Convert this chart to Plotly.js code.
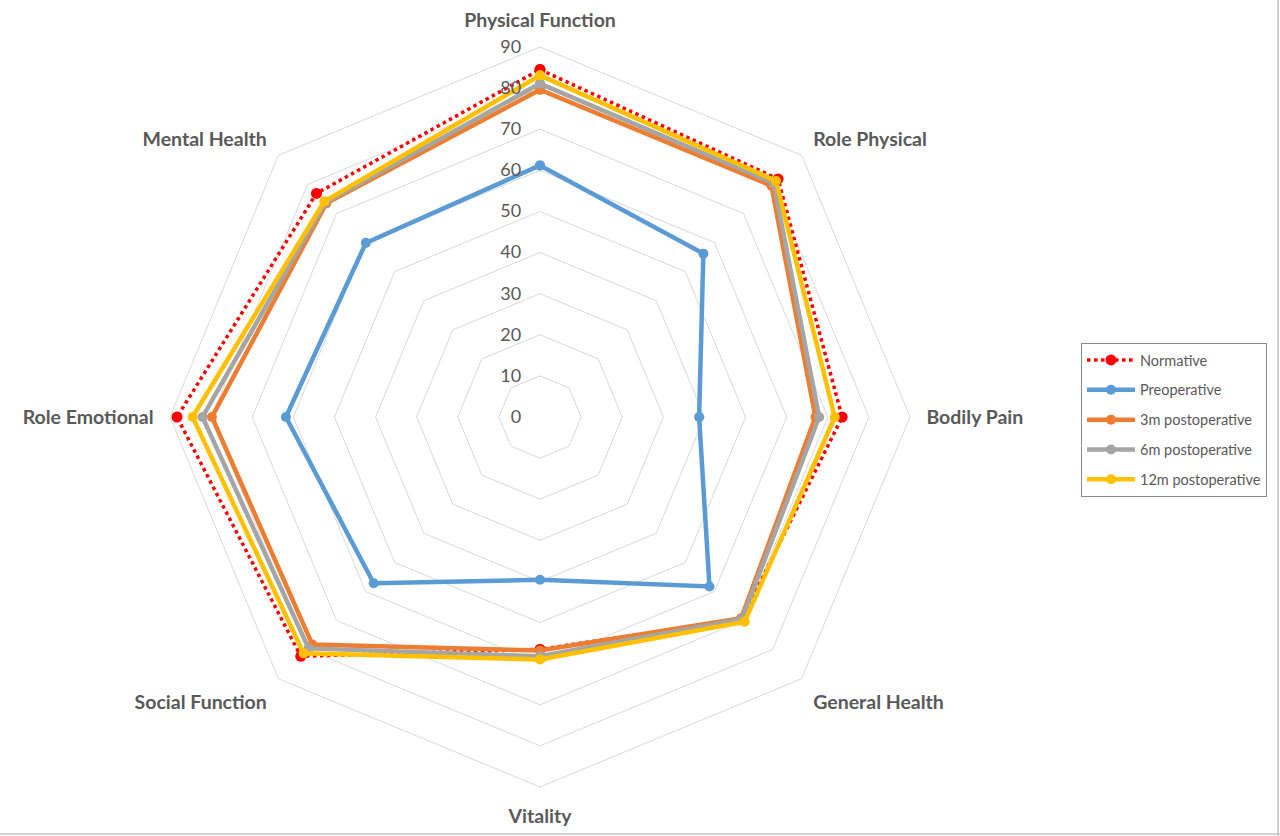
<!DOCTYPE html>
<html>
<head>
<meta charset="utf-8">
<script src="https://cdn.plot.ly/plotly-3.0.1.min.js"></script>
<style>html,body{margin:0;padding:0;background:#fff;}#chart{width:1280px;height:836px;}</style>
</head>
<body>
<div id="chart"></div>
<script>
const categories = ["Physical Function", "Role Physical", "Bodily Pain", "General Health", "Vitality", "Social Function", "Role Emotional", "Mental Health"];
const normative = [84.5, 81.9, 73.5, 69.5, 56.5, 82.3, 88.3, 76.9];
const preoperative = [61.2, 56.2, 38.7, 58.3, 39.6, 57.2, 61.8, 59.9];
const post3m = [79.6, 79.6, 67.0, 69.2, 56.8, 78.3, 79.8, 73.5];
const post6m = [81.1, 80.4, 67.9, 69.5, 58.2, 79.6, 82.1, 73.8];
const post12m = [83.1, 81.2, 71.7, 70.4, 59.0, 81.3, 84.5, 74.2];
const radialTicks = [0, 10, 20, 30, 40, 50, 60, 70, 80, 90];

function close(arr) { return arr.concat([arr[0]]); }

const series = [
  {name: "Normative", values: normative, color: "#FF0000", dash: "dot", width: 3.5, msize: 11},
  {name: "Preoperative", values: preoperative, color: "#5B9BD5", dash: "solid", width: 4.5, msize: 10},
  {name: "3m postoperative", values: post3m, color: "#ED7D31", dash: "solid", width: 4.5, msize: 10},
  {name: "6m postoperative", values: post6m, color: "#A5A5A5", dash: "solid", width: 4.5, msize: 10},
  {name: "12m postoperative", values: post12m, color: "#FFC000", dash: "solid", width: 4.5, msize: 10}
];

const traces = series.map((s, i) => ({
  type: "scatterpolar",
  mode: "lines+markers",
  name: s.name,
  legendgroup: "g" + i,
  r: close(s.values),
  theta: close(categories),
  line: {color: s.color, width: s.width, dash: s.dash},
  marker: {color: s.color, size: s.msize, symbol: "circle"},
  hoverinfo: "name+r+theta"
}));

const layout = {
  width: 1280,
  height: 836,
  margin: {l: 0, r: 0, t: 0, b: 0},
  paper_bgcolor: "#ffffff",
  showlegend: true,
  font: {family: "Lato, 'Open Sans', sans-serif", color: "#595959"},
  polar: {
    domain: {x: [170/1280, 910/1280], y: [1 - 787/836, 1 - 47/836]},
    bgcolor: "#ffffff",
    gridshape: "linear",
    radialaxis: {
      range: [0, 90],
      tickvals: radialTicks,
      ticktext: radialTicks.map(String),
      angle: 90,
      tickangle: 90,
      side: "counterclockwise",
      showline: false,
      gridcolor: "#d9d9d9",
      gridwidth: 1,
      ticks: "outside",
      ticklen: 12,
      tickcolor: "rgba(0,0,0,0)",
      tickfont: {size: 18, color: "#595959", family: "Lato, sans-serif"}
    },
    angularaxis: {
      rotation: 90,
      direction: "clockwise",
      showgrid: false,
      showline: true,
      linecolor: "#d9d9d9",
      linewidth: 1,
      ticks: "outside",
      ticklen: 12,
      tickcolor: "rgba(0,0,0,0)",
      tickfont: {size: 19.5, color: "#595959", family: "Lato, sans-serif", weight: "bold"}
    }
  },
  legend: {
    x: 1081/1280,
    y: 1 - 343/836,
    xanchor: "left",
    yanchor: "top",
    bordercolor: "#8c8c8c",
    borderwidth: 1,
    bgcolor: "#ffffff",
    traceorder: "grouped",
    tracegroupgap: 8,
    itemwidth: 48,
    font: {size: 14.5, color: "#595959", family: "Lato, sans-serif"}
  },
  shapes: [
    {type: "line", xref: "paper", yref: "paper", x0: 1278/1280, x1: 1278/1280, y0: 0, y1: 1, line: {color: "#d0d0d0", width: 2}},
    {type: "line", xref: "paper", yref: "paper", x0: 0, x1: 1, y0: 2/836, y1: 2/836, line: {color: "#d0d0d0", width: 2}}
  ]
};

Plotly.newPlot("chart", traces, layout, {displayModeBar: false, staticPlot: true});
</script>
</body>
</html>
